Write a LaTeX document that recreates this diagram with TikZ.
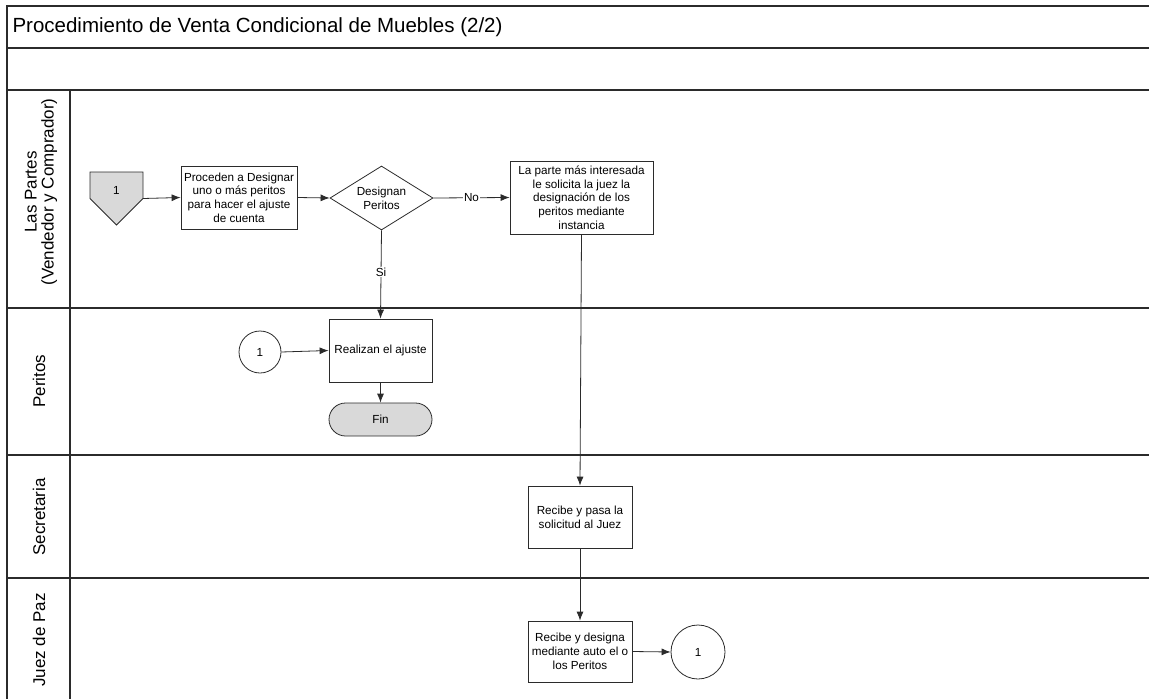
\documentclass[tikz,border=0pt]{standalone}
\usepackage{fontspec}
\setmainfont{Liberation Sans}
\usetikzlibrary{arrows.meta,shapes.geometric}
\definecolor{ink}{HTML}{2B2B2B}
\definecolor{shade}{HTML}{D9D9D9}
\begin{document}
\begin{tikzpicture}[x=1pt,y=-1pt,
  frame/.style={draw=ink,line width=1.1pt},
  txt/.style={font=\fontsize{11.7}{13.7}\selectfont},
  proc/.style={draw=ink,line width=0.8pt,fill=white,inner sep=2pt,align=center,txt},
  flow/.style={draw=ink,line width=0.8pt,-{Latex[length=9pt,width=7pt]}},
  lbl/.style={fill=white,inner sep=1pt,txt},
  lane/.style={rotate=90,align=center,font=\fontsize{17}{17}\selectfont}]
\useasboundingbox (0,0) rectangle (1149,699);

% pool frame and lanes
\draw[frame] (7,699) -- (7,6) -- (1149,6);
\foreach \yy in {48,90,308,455,578} \draw[frame] (7,\yy) -- (1149,\yy);
\draw[frame] (70,90) -- (70,699);

\node[anchor=west,font=\fontsize{20.5}{22}\selectfont] (title) at (9,27) {Procedimiento de Venta Condicional de Muebles (2/2)};

\node[lane] (l1) at (41,192) {Las Partes\\(Vendedor y Comprador)};
\node[lane] (l2) at (39,381) {Peritos};
\node[lane] (l3) at (39,517) {Secretaria};
\node[lane] (l4) at (39,640) {Juez de Paz};

% off-page connector
\node[minimum width=53pt,minimum height=53pt,inner sep=0] (off) at (116.5,198.5) {};
\draw[draw=ink,line width=0.8pt,fill=shade] (90,172) -- (143,172) -- (143,198.5) -- (116.5,225) -- (90,198.5) -- cycle;
\node[txt] (offtxt) at (116.5,190) {1};

% las partes
\node[proc,minimum width=116pt,minimum height=63pt] (p1) at (239,197.5)
  {Proceden a Designar\\uno o más peritos\\para hacer el ajuste\\de cuenta};
\node[draw=ink,line width=0.8pt,fill=white,diamond,aspect=1.6,minimum width=103pt,minimum height=64pt,
  inner sep=0pt,align=center,txt] (d1) at (381.5,198) {Designan\\Peritos};
\node[proc,minimum width=143pt,minimum height=73pt] (p2) at (581.5,197.5)
  {La parte más interesada\\le solicita la juez la\\designación de los\\peritos mediante\\instancia};

% peritos
\node[draw=ink,line width=0.8pt,fill=white,circle,minimum size=42pt,inner sep=0,txt] (c1) at (260,352) {1};
\node[proc,minimum width=103pt,minimum height=63pt] (p3) at (380.5,350.5) {Realizan el ajuste};
\node[draw=ink,line width=0.8pt,fill=shade,rounded corners=16.5pt,minimum width=103pt,minimum height=33pt,
  txt] (fin) at (380.5,419.5) {Fin};

% secretaria
\node[proc,minimum width=104pt,minimum height=62pt] (p4) at (580,517) {Recibe y pasa la\\solicitud al Juez};

% juez de paz
\node[proc,minimum width=104pt,minimum height=61pt] (p5) at (580,651.5)
  {Recibe y designa\\mediante auto el o\\los Peritos};
\node[draw=ink,line width=0.8pt,fill=white,circle,minimum size=54pt,inner sep=0,txt] (c2) at (698,652) {1};

% connectors
\draw[flow] (off.east) -- (p1.west);
\draw[flow] (p1.east) -- (d1.west);
\draw[flow] (d1.east) -- node[lbl] (no) {No} (p2.west);
\draw[flow] (d1.south) -- node[lbl,pos=0.47] (si) {Si} (p3.north);
\draw[flow] (c1.east) -- (p3.west);
\draw[flow] (p3.south) -- (fin.north);
\draw[flow] (p2.south) -- (p4.north);
\draw[flow] (p4.south) -- (p5.north);
\draw[flow] (p5.east) -- (c2.west);
\end{tikzpicture}
\end{document}
